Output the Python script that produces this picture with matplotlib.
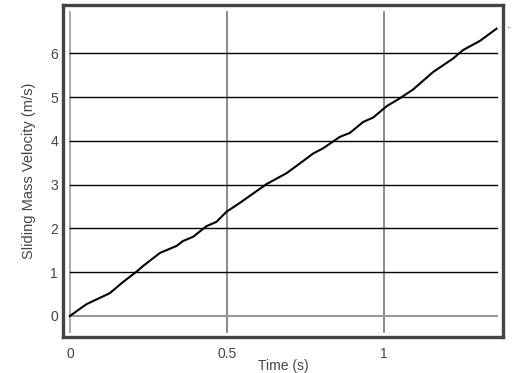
import matplotlib.pyplot as plt

plt.rcParams['font.family'] = ['Liberation Sans', 'DejaVu Sans']

# sliding mass velocity trace
t = [0, 0.053, 0.127, 0.17, 0.212, 0.233, 0.287, 0.34, 0.36, 0.393, 0.435,
     0.467, 0.499, 0.541, 0.626, 0.69, 0.732, 0.775, 0.807, 0.86,
     0.892, 0.934, 0.966, 1.009, 1.051, 1.093, 1.157, 1.221, 1.252, 1.306, 1.359]
v = [0, 0.27, 0.52, 0.78, 1.01, 1.14, 1.44, 1.60, 1.71, 1.81, 2.05,
     2.15, 2.38, 2.58, 3.01, 3.26, 3.48, 3.71, 3.83, 4.09,
     4.18, 4.43, 4.53, 4.79, 4.97, 5.17, 5.57, 5.88, 6.07, 6.28, 6.56]

xticks = [0, 0.5, 1]
xlabels = ['0', '0.5', '1']
yticks = [0, 1, 2, 3, 4, 5, 6]

fig = plt.figure(figsize=(5.12, 3.73), dpi=100)
ax = fig.add_axes([0.123, 0.0965, 0.859, 0.89])
ax.set_xlim(-0.022, 1.379)
ax.set_ylim(-0.48, 7.1)

# grid lines only span the data range
for x in xticks:
    ax.plot([x, x], [-0.37, 6.94], color='#999999' if x == 0 else '#777777', lw=1.2, zorder=1)
for y in yticks:
    ax.plot([0, 1.36], [y, y], color='#999999' if y == 0 else 'black', lw=1.0 if y else 1.5, zorder=1)

ax.plot(t, v, color='black', lw=1.5, zorder=3)

ax.set_xticks(xticks)
ax.set_xticklabels(xlabels)
ax.set_yticks(yticks)
ax.tick_params(length=0, labelsize=10, colors='#444444')
ax.tick_params(axis='x', pad=7)
ax.tick_params(axis='y', pad=3.5)
for s in ax.spines.values():
    s.set_linewidth(2.4)
    s.set_color('#444444')

ax.set_xlabel('Time (s)', fontsize=10, color='#444444', labelpad=-1.5)
ax.set_ylabel('Sliding Mass Velocity (m/s)', fontsize=10.5, color='#444444', labelpad=10)
fig.text(0.993, 0.925, '.', fontsize=9, color='#333333', ha='center')

fig.savefig('out.png', dpi=100)
